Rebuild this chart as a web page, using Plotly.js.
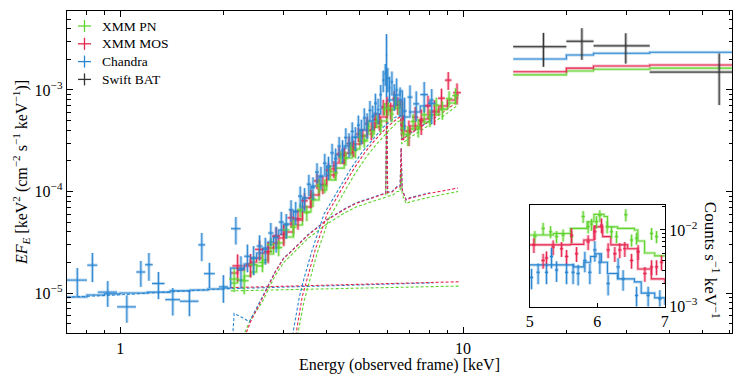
<!DOCTYPE html>
<html>
<head>
<meta charset="utf-8">
<script src="https://cdn.plot.ly/plotly-3.0.1.min.js"></script>
<style>
  html, body { margin: 0; padding: 0; background: #fff; }
  #chart { width: 747px; height: 374px; }
</style>
</head>
<body>
<div id="chart"></div>
<script>
// broadband spectrum (E F_E) with a Fe K zoom-in inset

// ---- XMM PN ----
const pnE = [2.15, 2.3, 2.45, 2.6, 2.75, 2.9, 3.05, 3.2, 3.35, 3.5, 3.65, 3.8, 3.95, 4.1, 4.25, 4.4, 4.55, 4.7, 4.85, 5.0,
             5.15, 5.3, 5.45, 5.6, 5.75, 5.9, 6.05, 6.2, 6.35, 6.5, 6.7, 6.9, 7.15, 7.4, 7.7, 8.0, 8.35, 8.7, 9.1, 9.5];
const pnDE = [0.07, 0.07, 0.07, 0.07, 0.07, 0.07, 0.07, 0.07, 0.07, 0.07, 0.07, 0.07, 0.07, 0.07, 0.07, 0.07, 0.07, 0.07, 0.07, 0.07,
              0.07, 0.07, 0.07, 0.07, 0.07, 0.07, 0.07, 0.07, 0.07, 0.07, 0.1, 0.1, 0.12, 0.12, 0.15, 0.15, 0.17, 0.17, 0.2, 0.2];
const pnF = [1.37e-5, 1.32e-5, 1.90e-5, 2.00e-5, 2.99e-5, 2.80e-5, 4.18e-5, 4.45e-5, 6.6e-5, 6.2e-5, 8.4e-5, 1.14e-4, 1.14e-4, 1.57e-4,
             1.53e-4, 2.18e-4, 2.13e-4, 2.65e-4, 2.54e-4, 3.47e-4, 3.19e-4, 4.38e-4, 3.98e-4, 4.91e-4, 4.46e-4, 6.5e-4, 6.6e-4, 5.8e-4,
             7.5e-4, 6.8e-4, 4.2e-4, 3.6e-4, 4.9e-4, 4.3e-4, 5.7e-4, 5.4e-4, 7.1e-4, 6.4e-4, 8.2e-4, 8.8e-4];
const pnErr = [0.35e-5, 0.35e-5, 0.4e-5, 0.4e-5, 0.5e-5, 0.5e-5, 0.7e-5, 0.8e-5, 1.0e-5, 1.1e-5, 1.4e-5, 1.8e-5, 1.8e-5, 2.4e-5,
               2.5e-5, 3.2e-5, 3.4e-5, 4e-5, 4.2e-5, 5e-5, 5e-5, 6e-5, 6e-5, 7e-5, 7e-5, 9e-5, 1e-4, 1e-4, 1.1e-4, 1.1e-4,
               8e-5, 8e-5, 9e-5, 9e-5, 1.1e-4, 1.1e-4, 1.3e-4, 1.3e-4, 1.5e-4, 1.6e-4];

// ---- XMM MOS ----
const mosE = [2.2, 2.4, 2.55, 2.7, 2.85, 3.0, 3.15, 3.3, 3.45, 3.6, 3.75, 3.9, 4.05, 4.2, 4.35, 4.5, 4.65, 4.8, 4.95, 5.1,
              5.25, 5.4, 5.55, 5.7, 5.85, 6.0, 6.15, 6.3, 6.45, 6.7, 6.95, 7.25, 7.55, 7.9, 8.25, 8.65, 9.05, 9.6];
const mosDE = [0.075, 0.075, 0.075, 0.075, 0.075, 0.075, 0.075, 0.075, 0.075, 0.075, 0.075, 0.075, 0.075, 0.075, 0.075, 0.075,
               0.075, 0.075, 0.075, 0.075, 0.075, 0.075, 0.075, 0.075, 0.075, 0.075, 0.075, 0.075, 0.075,
               0.12, 0.12, 0.15, 0.15, 0.17, 0.18, 0.2, 0.2, 0.25];
const mosF = [1.85e-5, 1.92e-5, 2.69e-5, 2.56e-5, 3.63e-5, 3.79e-5, 5.5e-5, 5.4e-5, 8.1e-5, 8.6e-5, 1.27e-4, 1.17e-4, 1.62e-4,
              1.67e-4, 2.35e-4, 2.27e-4, 2.97e-4, 2.68e-4, 3.67e-4, 3.53e-4, 4.65e-4, 4.0e-4, 5.11e-4, 4.88e-4, 6.8e-4, 7.3e-4,
              6.3e-4, 8.2e-4, 7.1e-4, 4.4e-4, 3.9e-4, 5.4e-4, 5.0e-4, 7.0e-4, 6.2e-4, 8.3e-4, 1.25e-3, 9.4e-4];
const mosErr = [0.55e-5, 0.5e-5, 0.6e-5, 0.6e-5, 0.8e-5, 0.9e-5, 1.1e-5, 1.2e-5, 1.5e-5, 1.7e-5, 2.2e-5, 2.3e-5, 3e-5, 3.2e-5,
                4e-5, 4.2e-5, 5e-5, 5e-5, 6e-5, 6e-5, 8e-5, 8e-5, 9e-5, 9e-5, 1.2e-4, 1.3e-4, 1.2e-4, 1.5e-4, 1.4e-4,
                1.2e-4, 1.1e-4, 1.4e-4, 1.4e-4, 1.8e-4, 1.7e-4, 2.0e-4, 2.5e-4, 2.2e-4];

// ---- Chandra ----
const chE = [0.75, 0.83, 0.92, 1.046, 1.149, 1.213, 1.293, 1.424, 1.592, 1.73, 1.821, 2.0, 2.175,
             2.25, 2.35, 2.45, 2.55, 2.65, 2.75, 2.85, 2.95, 3.05, 3.15, 3.25, 3.35, 3.45, 3.55, 3.65, 3.75, 3.85, 3.95,
             4.05, 4.15, 4.25, 4.35, 4.45, 4.55, 4.65, 4.75, 4.85, 4.95, 5.05, 5.15, 5.25, 5.35, 5.45, 5.55, 5.65, 5.75,
             5.85, 5.93, 5.98, 6.03, 6.1, 6.2, 6.3, 6.4, 6.55, 6.75, 7.0, 7.3, 7.7, 8.1];
const chDE = [0.05, 0.028, 0.06, 0.066, 0.035, 0.031, 0.054, 0.07, 0.1, 0.04, 0.067, 0.06, 0.07,
              0.05, 0.05, 0.05, 0.05, 0.05, 0.05, 0.05, 0.05, 0.05, 0.05, 0.05, 0.05, 0.05, 0.05, 0.05, 0.05, 0.05, 0.05,
              0.05, 0.05, 0.05, 0.05, 0.05, 0.05, 0.05, 0.05, 0.05, 0.05, 0.05, 0.05, 0.05, 0.05, 0.05, 0.05, 0.05, 0.05,
              0.04, 0.03, 0.025, 0.03, 0.04, 0.05, 0.05, 0.05, 0.08, 0.1, 0.12, 0.15, 0.2, 0.2];
const chF = [1.34e-5, 1.88e-5, 1.02e-5, 7.3e-6, 1.61e-5, 1.9e-5, 1.24e-5, 8.6e-6, 8.3e-6, 2.98e-5, 1.55e-5, 1.15e-5, 4.3e-5,
             1.7e-5, 2.3e-5, 2.2e-5, 2.9e-5, 2.7e-5, 3.9e-5, 3.5e-5, 5.0e-5, 4.7e-5, 6.6e-5, 6.3e-5, 9.0e-5, 8.6e-5, 1.18e-4,
             1.1e-4, 1.55e-4, 1.4e-4, 1.9e-4, 1.75e-4, 2.4e-4, 2.1e-4, 2.8e-4, 2.55e-4, 3.4e-4, 2.95e-4, 3.9e-4, 3.4e-4,
             4.5e-4, 4.0e-4, 5.3e-4, 4.6e-4, 6.3e-4, 5.5e-4, 7.4e-4, 6.4e-4, 9.0e-4,
             1.25e-3, 1.45e-3, 2.2e-3, 1.3e-3, 1.05e-3, 1.2e-3, 8.8e-4, 1.0e-3, 8.0e-4, 6.2e-4, 8.5e-4, 7.3e-4, 9.0e-4, 7.4e-4];
const chErr = [0.42e-5, 0.6e-5, 0.29e-5, 0.22e-5, 0.46e-5, 0.58e-5, 0.37e-5, 0.26e-5, 0.24e-5, 0.92e-5, 0.43e-5, 0.35e-5, 1.3e-5,
               0.6e-5, 0.7e-5, 0.7e-5, 0.8e-5, 0.8e-5, 1.0e-5, 1.0e-5, 1.3e-5, 1.3e-5, 1.6e-5, 1.6e-5, 2.2e-5, 2.2e-5, 2.8e-5,
               2.8e-5, 3.5e-5, 3.5e-5, 4.5e-5, 4.5e-5, 5.5e-5, 5.5e-5, 6.5e-5, 6.5e-5, 8e-5, 8e-5, 9e-5, 9e-5, 1.1e-4,
               1.1e-4, 1.3e-4, 1.3e-4, 1.5e-4, 1.5e-4, 1.8e-4, 1.8e-4, 2.2e-4,
               3.0e-4, 3.5e-4, 1.35e-3, 3.5e-4, 3.0e-4, 3.2e-4, 2.6e-4, 3.0e-4, 2.6e-4, 2.2e-4, 2.6e-4, 2.4e-4, 3.0e-4, 2.8e-4];

// ---- Swift BAT ----
const batLo = [14, 20, 24, 35];
const batHi = [20, 24, 35, 75];
const batE = [17.15, 22.2, 29.8, 55.8];
const batF = [2.67e-3, 3.02e-3, 2.72e-3, 1.5e-3];
const batErr = [0.98e-3, 1.04e-3, 0.9e-3, 0.79e-3];

// ---- total models (step histograms) ----
const xmmModelE = [2.1, 2.2, 2.3, 2.4, 2.5, 2.6, 2.7, 2.8, 2.9, 3.0, 3.2, 3.4, 3.6, 3.8, 4.0, 4.25, 4.5, 4.75, 5.0, 5.25,
                   5.5, 5.75, 6.0, 6.3, 6.55, 6.65, 7.0, 7.5, 8.0, 8.5, 9.0, 9.5, 9.7];
const mosModel = [1.574e-5, 1.69e-5, 1.85e-5, 2.02e-5, 2.21e-5, 2.48e-5, 2.78e-5, 3.11e-5, 3.48e-5, 3.99e-5, 5.24e-5, 7.03e-5,
                  9.24e-5, 1.16e-4, 1.455e-4, 1.91e-4, 2.39e-4, 2.94e-4, 3.52e-4, 4.04e-4, 4.73e-4, 5.42e-4, 6.95e-4, 7.11e-4,
                  7.79e-4, 3.94e-4, 4.42e-4, 5.18e-4, 6.07e-4, 6.95e-4, 7.97e-4, 8.93e-4, 8.93e-4];
const pnModel = [1.256e-5, 1.343e-5, 1.47e-5, 1.61e-5, 1.85e-5, 2.11e-5, 2.42e-5, 2.78e-5, 3.11e-5, 3.56e-5, 4.68e-5, 6.28e-5,
                 8.24e-5, 1.035e-4, 1.30e-4, 1.70e-4, 2.14e-4, 2.62e-4, 3.15e-4, 3.69e-4, 4.32e-4, 4.95e-4, 6.50e-4, 6.65e-4,
                 7.28e-4, 3.69e-4, 4.13e-4, 4.84e-4, 5.68e-4, 6.50e-4, 7.45e-4, 8.34e-4, 8.34e-4];
const chModelE = [0.7, 0.8, 0.9, 1.0, 1.2, 1.4, 1.6, 1.8, 2.0, 2.1, 2.2, 2.3, 2.4, 2.5, 2.6, 2.7, 2.8, 2.9, 3.0, 3.2, 3.4, 3.6,
                  3.8, 4.0, 4.25, 4.5, 4.75, 5.0, 5.25, 5.5, 5.75, 6.0, 6.3, 6.55, 6.65, 7.0, 7.5, 8.0, 8.2];
const chModel = [9.14e-6, 9.55e-6, 9.8e-6, 1.0e-5, 1.02e-5, 1.05e-5, 1.07e-5, 1.095e-5, 1.12e-5, 1.76e-5, 1.76e-5, 1.93e-5,
                 2.21e-5, 2.48e-5, 2.78e-5, 3.18e-5, 3.65e-5, 4.18e-5, 4.79e-5, 6.43e-5, 8.63e-5, 1.133e-4, 1.42e-4, 1.78e-4,
                 2.29e-4, 2.81e-4, 3.44e-4, 4.04e-4, 4.95e-4, 5.81e-4, 6.65e-4, 7.97e-4, 8.93e-4, 9.77e-4, 5.42e-4, 6.07e-4,
                 6.95e-4, 7.97e-4, 7.97e-4];

// model in the BAT band, one per instrument normalisation
const batEdges = [14, 20, 24, 35, 75];
const batModelCh = [2.02e-3, 2.21e-3, 2.30e-3, 2.35e-3, 2.35e-3];
const batModelMos = [1.51e-3, 1.64e-3, 1.72e-3, 1.76e-3, 1.76e-3];
const batModelPn = [1.41e-3, 1.54e-3, 1.60e-3, 1.64e-3, 1.64e-3];

// ---- model components (dashed) ----
const chScatE = [0.7, 1.0, 2.0, 4.0, 8.2];
const chScat = [9.1e-6, 9.6e-6, 1.1e-5, 1.17e-5, 1.26e-5];
const mosScatE = [2.1, 4.0, 9.7];
const mosScat = [1.13e-5, 1.19e-5, 1.29e-5];
const pnScatE = [2.1, 4.0, 9.7];
const pnScat = [1.05e-5, 1.1e-5, 1.17e-5];

const chReflE = [2.12, 2.15, 2.3, 2.38, 2.59, 2.83, 3.0, 3.13, 3.53, 4.01, 4.53, 4.91, 5.43, 5.85, 5.95, 5.985, 6.025, 6.21,
                 6.42, 6.55, 6.596, 6.641, 6.82, 7.0, 8.0];
const chRefl = [3.0e-6, 6.3e-6, 5.6e-6, 5.2e-6, 9.0e-6, 1.62e-5, 2.22e-5, 2.52e-5, 3.75e-5, 5.3e-5, 6.8e-5, 7.8e-5, 8.7e-5,
                9.5e-5, 9.7e-5, 8.5e-4, 9.9e-5, 1.0e-4, 1.12e-4, 1.12e-4, 2.7e-4, 1.05e-4, 8.3e-5, 8.7e-5, 9.7e-5];
const mosReflE = [2.25, 2.4, 2.59, 2.83, 3.0, 3.13, 3.53, 4.01, 4.53, 4.91, 5.43, 5.85, 5.95, 5.985, 6.025, 6.21, 6.42, 6.55,
                  6.596, 6.641, 6.82, 7.0, 8.0, 9.67];
const mosRefl = [3.0e-6, 5.2e-6, 8.7e-6, 1.6e-5, 2.2e-5, 2.5e-5, 3.72e-5, 5.24e-5, 6.73e-5, 7.71e-5, 8.63e-5, 9.44e-5, 9.6e-5,
                 7.97e-4, 9.8e-5, 9.89e-5, 1.107e-4, 1.107e-4, 2.68e-4, 1.035e-4, 8.25e-5, 8.6e-5, 9.6e-5, 1.082e-4];
const pnReflE = [2.22, 2.4, 2.59, 2.83, 3.0, 3.13, 3.53, 4.01, 4.53, 4.91, 5.43, 5.85, 5.95, 5.985, 6.025, 6.21, 6.42, 6.55,
                 6.6, 6.641, 6.82, 7.0, 8.0, 9.67];
const pnRefl = [3.0e-6, 5.5e-6, 8.0e-6, 1.48e-5, 2.0e-5, 2.3e-5, 3.45e-5, 4.8e-5, 6.2e-5, 7.1e-5, 7.9e-5, 8.6e-5, 8.8e-5,
                6.6e-4, 9.0e-5, 9.1e-5, 1.0e-4, 1.0e-4, 1.7e-4, 9.4e-5, 7.6e-5, 7.9e-5, 8.8e-5, 1.0e-4];

const chAbsE = [3.13, 3.19, 3.33, 3.44, 3.63, 3.93, 4.29, 4.68, 5.08, 5.43, 5.85, 6.34, 6.574, 6.618, 7.0, 8.0];
const chAbs = [3.08e-6, 4.04e-6, 9.14e-6, 1.41e-5, 2.65e-5, 6.0e-5, 9.9e-5, 1.63e-4, 2.45e-4, 3.22e-4, 4.3e-4, 5.4e-4,
               5.6e-4, 3.3e-4, 3.75e-4, 5.0e-4];
const mosAbsE = [3.194, 3.26, 3.394, 3.51, 3.703, 4.013, 4.379, 4.778, 5.18, 5.54, 5.965, 6.465, 6.574, 6.618, 7.006, 8.014,
                 8.86, 9.67];
const mosAbs = [3.08e-6, 4.04e-6, 9.14e-6, 1.406e-5, 2.65e-5, 6.0e-5, 9.89e-5, 1.63e-4, 2.45e-4, 3.22e-4, 4.23e-4, 5.3e-4,
                5.42e-4, 3.22e-4, 3.69e-4, 4.95e-4, 6.21e-4, 7.79e-4];
const pnAbsE = [3.24, 3.30, 3.44, 3.56, 3.75, 4.07, 4.44, 4.84, 5.25, 5.61, 6.04, 6.465, 6.574, 6.618, 7.006, 8.014, 8.86, 9.67];
const pnAbs = [3.08e-6, 4.04e-6, 8.4e-6, 1.29e-5, 2.44e-5, 5.5e-5, 9.1e-5, 1.5e-4, 2.25e-4, 2.96e-4, 3.9e-4, 4.9e-4, 5.0e-4,
               2.95e-4, 3.4e-4, 4.55e-4, 5.7e-4, 7.15e-4];

// ---- inset: counts spectrum 5-7 keV ----
const insPnE = [5.074, 5.197, 5.307, 5.396, 5.493, 5.618, 5.79, 5.864, 5.914, 5.988, 6.037, 6.145, 6.21, 6.284, 6.422, 6.507,
                6.581, 6.803, 6.877];
const insPnC = [0.0082, 0.0105, 0.0095, 0.0082, 0.0086, 0.0082, 0.0150, 0.0110, 0.0119, 0.0128, 0.0154, 0.0110, 0.0095,
                0.0082, 0.0158, 0.0074, 0.0078, 0.0090, 0.0082];
const insMosE = [5.06, 5.197, 5.247, 5.345, 5.47, 5.544, 5.618, 5.692, 5.864, 5.963, 6.062, 6.16, 6.259, 6.333, 6.407, 6.507,
                 6.604, 6.704, 6.803, 6.877, 6.951];
const insMosC = [0.0064, 0.0040, 0.0043, 0.0060, 0.0057, 0.0045, 0.0086, 0.0049, 0.0070, 0.0095, 0.0116, 0.0055, 0.0049,
                 0.0055, 0.0057, 0.0040, 0.0052, 0.0027, 0.0033, 0.0033, 0.0038];
const insChE = [5.025, 5.123, 5.247, 5.321, 5.396, 5.544, 5.641, 5.716, 5.815, 5.889, 5.963, 6.037, 6.16, 6.308, 6.382, 6.581,
                6.753, 6.926];
const insChC = [0.0024, 0.0028, 0.0028, 0.0045, 0.0030, 0.0028, 0.0028, 0.0027, 0.0040, 0.0028, 0.0055, 0.0038, 0.0020,
                0.0033, 0.0023, 0.0014, 0.0014, 0.00126];

const insPnModelE = [5.0, 5.35, 5.6, 5.85, 5.95, 6.1, 6.15, 6.3, 6.55, 6.6, 6.7, 6.85, 7.0];
const insPnModel = [0.0086, 0.0090, 0.0105, 0.0128, 0.0160, 0.0150, 0.0110, 0.0105, 0.0100, 0.0072, 0.0050, 0.0046, 0.0045];
const insMosModelE = [5.0, 5.6, 5.8, 5.95, 6.08, 6.2, 6.45, 6.6, 6.8, 7.0];
const insMosModel = [0.0064, 0.0065, 0.0074, 0.0110, 0.0082, 0.0064, 0.0057, 0.0031, 0.0023, 0.0020];
const insChModelE = [5.0, 5.65, 5.8, 5.9, 5.98, 6.06, 6.15, 6.3, 6.55, 6.65, 6.85, 7.0];
const insChModel = [0.0035, 0.0033, 0.0038, 0.0045, 0.0049, 0.0038, 0.0027, 0.0023, 0.0021, 0.0015, 0.0013, 0.00105];

const legendNames = ['XMM PN', 'XMM MOS', 'Chandra', 'Swift BAT'];

const PN = '#62d430', MOS = '#e6264f', CHA = '#2a86d2', BAT = '#333333';
const FONT = 'Liberation Serif, serif';

function fade(hex, a) {
  const n = parseInt(hex.slice(1), 16);
  return `rgba(${n >> 16},${(n >> 8) & 255},${n & 255},${a})`;
}

// error-bar crosses: thick faded bar under a thin one
function points(x, ex, y, ey, color, axes) {
  const base = {
    x, y, type: 'scatter', mode: 'markers', marker: { size: 1, opacity: 0 },
    showlegend: false, hoverinfo: 'skip', xaxis: axes[0], yaxis: axes[1]
  };
  return [
    { ...base, error_x: { ...ex, color: fade(color, 0.35), thickness: 3, width: 0 },
               error_y: { ...ey, color: fade(color, 0.35), thickness: 3, width: 0 } },
    { ...base, error_x: { ...ex, color, thickness: 1, width: 0 },
               error_y: { ...ey, color, thickness: 1, width: 0 } }
  ];
}

function step(x, y, color, axes) {
  const base = { x, y, type: 'scatter', mode: 'lines', showlegend: false, hoverinfo: 'skip', xaxis: axes[0], yaxis: axes[1] };
  return [
    { ...base, line: { color: fade(color, 0.3), width: 3, shape: 'hv' } },
    { ...base, line: { color, width: 1.1, shape: 'hv' } }
  ];
}

function dashed(x, y, color) {
  return { x, y, type: 'scatter', mode: 'lines', showlegend: false, hoverinfo: 'skip',
           line: { color, width: 1.1, dash: '3px,2px' } };
}

const arr = a => ({ type: 'data', array: a, visible: true });
const main = ['x', 'y'], inset = ['x2', 'y2'];

const traces = [
  dashed(chScatE, chScat, CHA), dashed(mosScatE, mosScat, MOS), dashed(pnScatE, pnScat, PN),
  dashed(pnReflE, pnRefl, PN), dashed(chReflE, chRefl, CHA), dashed(mosReflE, mosRefl, MOS),
  dashed(pnAbsE, pnAbs, PN), dashed(chAbsE, chAbs, CHA), dashed(mosAbsE, mosAbs, MOS),
  ...step(xmmModelE, pnModel, PN, main),
  ...step(xmmModelE, mosModel, MOS, main),
  ...step(chModelE, chModel, CHA, main),
  ...step(batEdges, batModelPn, PN, main),
  ...step(batEdges, batModelMos, MOS, main),
  ...step(batEdges, batModelCh, CHA, main),
  ...points(mosE, arr(mosDE), mosF, arr(mosErr), MOS, main),
  ...points(pnE, arr(pnDE), pnF, arr(pnErr), PN, main),
  ...points(chE, arr(chDE), chF, arr(chErr), CHA, main),
  ...points(batE, { type: 'data', symmetric: false, visible: true,
                    array: batHi.map((h, i) => h - batE[i]), arrayminus: batLo.map((l, i) => batE[i] - l) },
            batF, arr(batErr), BAT, main),
  // inset
  ...step(insPnModelE, insPnModel, PN, inset),
  ...step(insMosModelE, insMosModel, MOS, inset),
  ...step(insChModelE, insChModel, CHA, inset),
  ...points(insPnE, { type: 'constant', value: 0.025 }, insPnC, { type: 'percent', value: 18 }, PN, inset),
  ...points(insMosE, { type: 'constant', value: 0.025 }, insMosC, { type: 'percent', value: 22 }, MOS, inset),
  ...points(insChE, { type: 'constant', value: 0.025 }, insChC, { type: 'percent', value: 30 }, CHA, inset)
];

// hand-placed legend (rows tighter than plotly's own legend allows)
const plotL = 67, plotW = 665, plotB = 333, plotH = 322;
const px = v => (v - plotL) / plotW;
const py = v => (plotB - v) / plotH;
const legendShapes = [], legendNotes = [];
[PN, MOS, CHA, BAT].forEach((c, i) => {
  const row = 26 + i * 17.8;
  legendShapes.push(
    { type: 'line', xref: 'paper', yref: 'paper', x0: px(78), x1: px(91), y0: py(row), y1: py(row), line: { color: c, width: 1.3 } },
    { type: 'line', xref: 'paper', yref: 'paper', x0: px(84.5), x1: px(84.5), y0: py(row - 6), y1: py(row + 6), line: { color: c, width: 1.3 } }
  );
  legendNotes.push({ text: legendNames[i], xref: 'paper', yref: 'paper', x: px(100), y: py(row), xanchor: 'left',
                     yanchor: 'middle', showarrow: false, font: { family: FONT, size: 13.5 } });
});

const xMinor = [0.7, 0.8, 0.9, 2, 3, 4, 5, 6, 7, 8, 9, 20, 30, 40, 50, 60];
const yMinor = [];
[1e-6, 1e-5, 1e-4, 1e-3].forEach(d => { for (let k = 2; k <= 9; k++) yMinor.push(k * d); });
const y2Minor = [];
for (let k = 2; k <= 9; k++) y2Minor.push(k * 1e-3);
y2Minor.push(0.02);

const axisStyle = {
  showline: true, linecolor: 'black', linewidth: 1.3, showgrid: false, zeroline: false,
  ticks: 'inside', tickcolor: 'black', tickwidth: 1, tickfont: { family: FONT, size: 16 }
};

const layout = {
  width: 747, height: 374,
  margin: { l: plotL, r: 747 - plotL - plotW, t: plotB - plotH, b: 374 - plotB },
  paper_bgcolor: 'white', plot_bgcolor: 'white',
  font: { family: FONT, size: 16, color: 'black' },
  showlegend: false,
  xaxis: {
    ...axisStyle, type: 'log', range: [-0.155, 1.784], mirror: 'allticks', ticklen: 6,
    tickvals: [1, 10], ticktext: ['1', '10'],
    minor: { tickvals: xMinor, ticks: 'inside', ticklen: 3.5, tickcolor: 'black', showgrid: false },
    title: { text: 'Energy (observed frame) [keV]', standoff: 7, font: { family: FONT, size: 16 } }
  },
  yaxis: {
    ...axisStyle, type: 'log', range: [-5.394, -2.222], mirror: 'allticks', ticklen: 6,
    tickvals: [1e-5, 1e-4, 1e-3], ticktext: ['10<sup>−5</sup>', '10<sup>−4</sup>', '10<sup>−3</sup>'],
    minor: { tickvals: yMinor, ticks: 'inside', ticklen: 3.5, tickcolor: 'black', showgrid: false },
    title: { text: '<i>EF</i><sub><i>E</i></sub> [keV<sup>2</sup> (cm<sup>−2</sup> s<sup>−1</sup> keV<sup>−1</sup>)]',
             standoff: 3, font: { family: FONT, size: 16 } }
  },
  xaxis2: {
    ...axisStyle, domain: [0.696, 0.899], anchor: 'y2', range: [5, 7], mirror: true, ticklen: 4,
    tickvals: [5, 6, 7], ticktext: ['5', '6', '7']
  },
  yaxis2: {
    ...axisStyle, domain: [0.082, 0.396], anchor: 'x2', type: 'log', range: [-3.0, -1.68], side: 'right',
    mirror: true, ticklen: 5,
    tickvals: [1e-3, 1e-2], ticktext: ['10<sup>−3</sup>', '10<sup>−2</sup>'],
    minor: { tickvals: y2Minor, ticks: 'inside', ticklen: 3, tickcolor: 'black', showgrid: false }
  },
  shapes: legendShapes,
  annotations: [...legendNotes, {
    text: 'Counts s<sup>−1</sup> keV<sup>−1</sup>', xref: 'paper', yref: 'paper', x: 0.970, y: 0.227,
    xanchor: 'center', yanchor: 'middle', textangle: 90, showarrow: false, font: { family: FONT, size: 17 }
  }]
};

Plotly.newPlot('chart', traces, layout, { displayModeBar: false, staticPlot: true });
</script>
</body>
</html>
